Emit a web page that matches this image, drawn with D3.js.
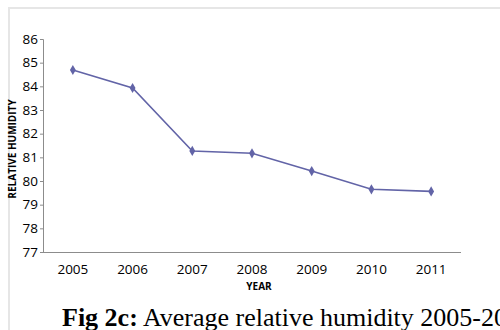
<!DOCTYPE html>
<html><head><meta charset="utf-8">
<script src="https://cdn.jsdelivr.net/npm/d3@7"></script>
<style>body{margin:0;background:#fff}</style>
</head><body>
<svg id="c" width="500" height="330"></svg>
<script>
const years = ["2005","2006","2007","2008","2009","2010","2011"];
const humidity = [84.69, 83.93, 81.27, 81.17, 80.42, 79.65, 79.56];
const yTicks = [77,78,79,80,81,82,83,84,85,86];

const svg = d3.select("#c");
// outer frame
svg.append("line").attr("x1",8).attr("x2",500).attr("y1",8).attr("y2",8).attr("stroke","#e6e6e6").attr("stroke-width",2);
svg.append("line").attr("x1",9).attr("x2",9).attr("y1",7).attr("y2",330).attr("stroke","#e6e6e6").attr("stroke-width",2);

const L=43, R=461, T=39, B=252;
const x = d3.scaleBand().domain(years).range([L,R]);
const y = d3.scaleLinear().domain([77,86]).range([B,T]);

const yAxis = d3.axisLeft(y).tickValues(yTicks).tickSize(3).tickPadding(2).tickFormat(d3.format("d"));
const gy = svg.append("g").attr("transform",`translate(${L},0)`).call(yAxis);
gy.select(".domain").attr("stroke","#8c8c8c");
gy.selectAll(".tick line").attr("stroke","#8c8c8c");
gy.selectAll("text").attr("font-family","Open Sans, sans-serif").attr("font-size",13.5).attr("fill","#000");

const xAxis = d3.axisBottom(x).tickSize(0).tickPadding(12);
const gx = svg.append("g").attr("transform",`translate(0,${B})`).call(xAxis);
gx.select(".domain").attr("stroke","#8c8c8c").attr("d",`M${L},0.5H${R}`);
gx.selectAll("text").attr("font-family","Open Sans, sans-serif").attr("font-size",13.5).attr("fill","#000");

const pts = years.map((d,i)=>[x(d)+x.bandwidth()/2, y(humidity[i])]);
svg.append("path").attr("d",d3.line()(pts)).attr("fill","none").attr("stroke","#6264a7").attr("stroke-width",1.6);
svg.selectAll(".m").data(pts).enter().append("path")
  .attr("transform",d=>`translate(${d[0]},${d[1]})`)
  .attr("d",d3.symbol(d3.symbolDiamond,30)()).attr("fill","#6264a7");

svg.append("text").attr("x",259).attr("y",290).attr("text-anchor","middle")
  .attr("font-family","Open Sans, sans-serif").attr("font-size",10).attr("font-weight","bold").text("YEAR");
svg.append("text").attr("transform","translate(15.5,149) rotate(-90)").attr("text-anchor","middle")
  .attr("font-family","Open Sans, sans-serif").attr("font-size",10).attr("font-weight","bold").text("RELATIVE HUMIDITY");

const cap = svg.append("text").attr("x",62).attr("y",326).attr("font-family","Liberation Serif, serif").attr("font-size",26);
cap.append("tspan").attr("font-weight","bold").text("Fig 2c:");
cap.append("tspan").text(" Average relative humidity 2005-2011");
</script>
</body></html>
